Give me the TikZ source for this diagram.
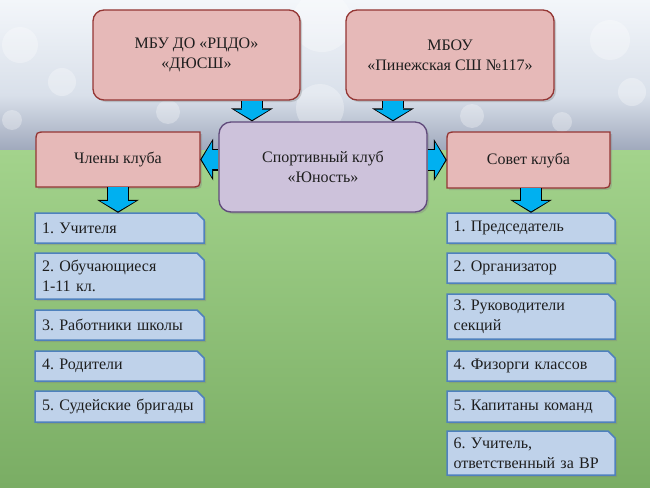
\documentclass[tikz,border=0pt]{standalone}
\usepackage{fontspec}
\setmainfont{Liberation Serif}
\usetikzlibrary{arrows.meta,shadows}

\definecolor{skytop}{HTML}{F3F6FA}
\definecolor{skymid}{HTML}{D9E0EA}
\definecolor{stands}{HTML}{9EA7BB}
\definecolor{grasstop}{HTML}{A3D38C}
\definecolor{grassbot}{HTML}{7AAD64}
\definecolor{orgfill}{HTML}{E6B9B8}
\definecolor{orgline}{HTML}{943634}
\definecolor{clubfill}{HTML}{CDC2DB}
\definecolor{clubline}{HTML}{604A7B}
\definecolor{itemfill}{HTML}{BFD2EA}
\definecolor{itemline}{HTML}{4F81BD}
\definecolor{arrowfill}{HTML}{00B0F0}
\definecolor{ink}{HTML}{1E1E1E}

\newcommand{\boxfont}{\fontsize{16}{20}\selectfont}

\tikzset{
    boxshadow/.style={drop shadow={opacity=0.35,shadow xshift=2pt,shadow yshift=-2pt}},
    org/.style={draw=orgline, fill=orgfill, line width=1.3pt, rounded corners=11pt,
        boxshadow, align=center, font=\boxfont, text=ink},
    club/.style={draw=clubline, fill=clubfill, line width=1.3pt, rounded corners=12pt,
        boxshadow, align=center, font=\boxfont, text=ink},
    pinkframe/.style={draw=orgline, fill=orgfill, line width=1.3pt, boxshadow},
    boxlabel/.style={align=center, font=\boxfont, text=ink, inner sep=0pt},
    itemframe/.style={draw=itemline, fill=itemfill, line width=1.5pt, boxshadow},
    itemtext/.style={align=left, text width=155pt, font=\boxfont, text=ink, inner sep=0pt}
}

% box with two round corners (top left, bottom right)
\newcommand{\diagBox}[6]{
    \draw[pinkframe] ({#2-#4/2},{#3-#5/2+10}) .. controls ({#2-#4/2},{#3-#5/2}) .. ({#2-#4/2+10},{#3-#5/2})
        -- ({#2+#4/2},{#3-#5/2}) -- ({#2+#4/2},{#3+#5/2-10})
        .. controls ({#2+#4/2},{#3+#5/2}) .. ({#2+#4/2-10},{#3+#5/2}) -- ({#2-#4/2},{#3+#5/2}) -- cycle;
    \node[boxlabel, minimum width=#4, minimum height=#5] (#1) at (#2,#3) {#6};
}
% list entry, top right corner cut
\newcommand{\listItem}[6]{
    \draw[itemframe] (#2,#5) -- (#2,#4) -- (#3-7,#4) -- (#3,#4+7) -- (#3,#5) -- cycle;
    \node[itemtext, minimum height=#5-#4] (#1) at ({(#2+#3)/2},{(#4+#5)/2}) {#6};
}
% blue block arrow
\newcommand{\fatArrow}[2]{
    \draw[line width=22pt, -{Triangle[length=13pt,width=42pt,line width=0pt]}] (#1) -- (#2);
    \draw[line width=19.6pt, arrowfill, shorten >=1.4pt,
        -{Triangle[length=10.4pt,width=35.3pt,line width=0pt]}] (#1) -- (#2);
}

\begin{document}
\frenchspacing
\begin{tikzpicture}[x=1pt,y=-1pt]
    \useasboundingbox (0,0) rectangle (650,487);

    % Background
    \shade[top color=skytop, bottom color=skymid] (0,0) rectangle (650,95);
    \shade[top color=skymid, bottom color=stands] (0,95) rectangle (650,152);
    \shade[top color=grasstop, bottom color=grassbot] (0,150) rectangle (650,487);
    \foreach \x/\y/\r in {20/45/18, 62/82/14, 610/40/20, 632/92/14, 322/22/30,
        320/108/24, 472/116/12, 168/112/12, 562/122/10, 12/120/10}
        \fill[white, opacity=0.3] (\x,\y) circle (\r);

    % Top boxes
    \node[org, minimum width=207, minimum height=90] (rcdo) at (196.5,55)
        {МБУ ДО «РЦДО»\\«ДЮСШ»};
    \node[org, minimum width=208, minimum height=90] (school) at (450,55)
        {МБОУ\\«Пинежская СШ №117»};
    \node[club, minimum width=208, minimum height=90] (club) at (323,167)
        {Спортивный клуб\\«Юность»};

    \diagBox{members}{118}{159.5}{164}{55}{Члены клуба}
    \diagBox{council}{528.5}{160}{163}{56}{Совет клуба}

    % Left list
    \listItem{m1}{35}{204}{213}{243}{1. Учителя}
    \listItem{m2}{35}{204}{253}{299}{2. Обучающиеся\\1-11 кл.}
    \listItem{m3}{35}{204}{310}{340}{3. Работники школы}
    \listItem{m4}{35}{204}{351}{381}{4. Родители}
    \listItem{m5}{35}{204}{391}{422}{5. Судейские бригады}

    % Right list
    \listItem{c1}{447}{615}{213}{243}{1. Председатель}
    \listItem{c2}{447}{615}{253}{283}{2. Организатор}
    \listItem{c3}{447}{615}{294}{339}{3. Руководители\\секций}
    \listItem{c4}{447}{615}{351}{381}{4. Физорги классов}
    \listItem{c5}{447}{615}{391}{422}{5. Капитаны команд}
    \listItem{c6}{447}{615}{431}{475}{6. Учитель,\\ответственный за ВР}

    % Arrows
    \coordinate (a1) at ([xshift=55.5pt]rcdo.south);
    \coordinate (a2) at ([xshift=-57pt]school.south);
    \coordinate (a3) at ([xshift=2.5pt]council.south);
    \fatArrow{a1}{a1 |- club.north}
    \fatArrow{a2}{a2 |- club.north}
    \fatArrow{club.west |- members.east}{members.east}
    \fatArrow{club.east |- council.west}{council.west}
    \fatArrow{members.south}{members.south |- m1.north}
    \fatArrow{a3}{a3 |- c1.north}
\end{tikzpicture}
\end{document}
